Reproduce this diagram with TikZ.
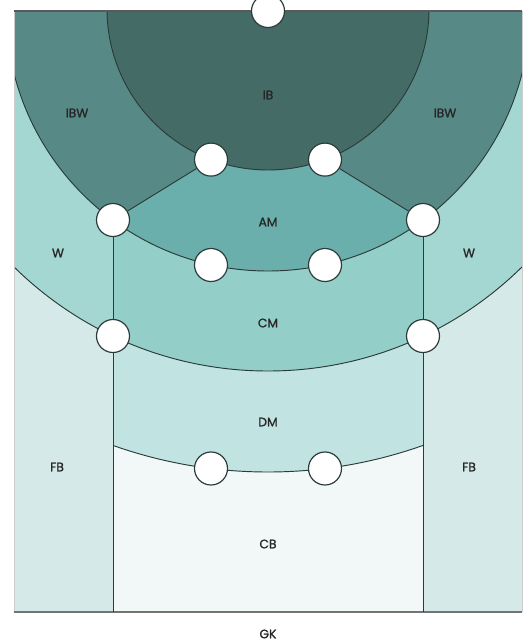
\documentclass[tikz,border=0pt]{standalone}
\usepackage{fontspec}
\setmainfont{Poppins}
\newfontfamily\zonefont[FakeBold=1.2]{Poppins}
\usepackage{tikz}
\usetikzlibrary{positioning,calc,backgrounds}
\definecolor{ibcol}{HTML}{446B66}
\definecolor{ibwcol}{HTML}{578A86}
\definecolor{amcol}{HTML}{6AAFAB}
\definecolor{wcol}{HTML}{A4D6D2}
\definecolor{cmcol}{HTML}{94CEC8}
\definecolor{dmcol}{HTML}{C1E3E1}
\definecolor{fbcol}{HTML}{D5EAE8}
\definecolor{cbcol}{HTML}{F1F8F7}
\definecolor{linecol}{HTML}{2B3B39}
\tikzset{
  zonelabel/.style={font=\zonefont\fontsize{10.5}{12}\selectfont,text=black!85,inner sep=0pt},
  spotnode/.style={circle,draw=linecol,fill=white,line width=1pt,minimum size=0.99cm,inner sep=0pt},
  zoneline/.style={draw=linecol,line width=0.8pt},
  pitchline/.style={draw=black!65,line width=1.1pt}
}

\begin{document}
\begin{tikzpicture}[x=0.03cm,y=-0.03cm]
  \useasboundingbox (0,0) rectangle (527,643);
  \coordinate (c) at (268,9);
  \coordinate (lbot) at (113,612);
  \coordinate (rbot) at (423,612);

  % zones
  \begin{scope}
    \clip (14,11) rectangle (522,612);
    \fill[fbcol] (14,11) rectangle (522,612);
    \fill[cbcol] (113,11) rectangle (423,612);
    \begin{scope}
      \clip (113,11) rectangle (423,612);
      \fill[dmcol] (c) circle (463);
    \end{scope}
    \fill[wcol] (c) circle (362);
    \begin{scope}
      \clip (113,11) rectangle (423,612);
      \fill[cmcol] (c) circle (362);
    \end{scope}
    \fill[ibwcol] (c) circle (262);
    \begin{scope}
      \clip (113,220) -- (211,159.6) -- (325,159.6) -- (423,220) -- (423,612) -- (113,612) -- cycle;
      \fill[amcol] (c) circle (262);
    \end{scope}
    \fill[ibcol] (c) circle (161);

    % boundaries
    \draw[zoneline] (c) circle (161);
    \draw[zoneline] (c) circle (262);
    \draw[zoneline] (c) circle (362);
    \begin{scope}
      \clip (113,11) rectangle (423,612);
      \draw[zoneline] (c) circle (463);
    \end{scope}
  \end{scope}

  \draw[black!20,line width=0.4pt] (14,11) -- (14,612) (522,11) -- (522,612);
  \draw[pitchline] (14,11) -- (522,11);
  \draw[pitchline,black!55] (14,612) -- (522,612);

  % positions
  \node[spotnode] (top) at (268,11) {};
  \node[spotnode] (ibl) at (211,159.6) {};
  \node[spotnode] (ibr) at (325,159.6) {};
  \node[spotnode] (wl) at (113,220) {};
  \node[spotnode] (wr) at (423,220) {};
  \node[spotnode] (aml) at (211,265) {};
  \node[spotnode] (amr) at (325,265) {};
  \node[spotnode] (fbl) at (113,336) {};
  \node[spotnode] (fbr) at (423,336) {};
  \node[spotnode] (dml) at (211,468.5) {};
  \node[spotnode] (dmr) at (325,468.5) {};

  \draw[zoneline] (wl) -- (ibl);
  \draw[zoneline] (wr) -- (ibr);
  \draw[zoneline] (wl) -- (fbl);
  \draw[zoneline] (wr) -- (fbr);
  \draw[zoneline] (fbl) -- (lbot);
  \draw[zoneline] (fbr) -- (rbot);

  % labels
  \node[zonelabel] (lIB) at (268,95) {IB};
  \node[zonelabel] (lIBWl) at (77,113) {IBW};
  \node[zonelabel] (lIBWr) at (445,113) {IBW};
  \node[zonelabel] (lAM) at (268,222) {AM};
  \node[zonelabel] (lWl) at (58,253) {W};
  \node[zonelabel] (lWr) at (469,253) {W};
  \node[zonelabel] (lCM) at (268,323) {CM};
  \node[zonelabel] (lDM) at (268,422) {DM};
  \node[zonelabel] (lFBl) at (57,467) {FB};
  \node[zonelabel] (lFBr) at (469,467) {FB};
  \node[zonelabel] (lCB) at (268,544) {CB};
  \node[zonelabel] (lGK) at (268,634) {GK};
\end{tikzpicture}
\end{document}
